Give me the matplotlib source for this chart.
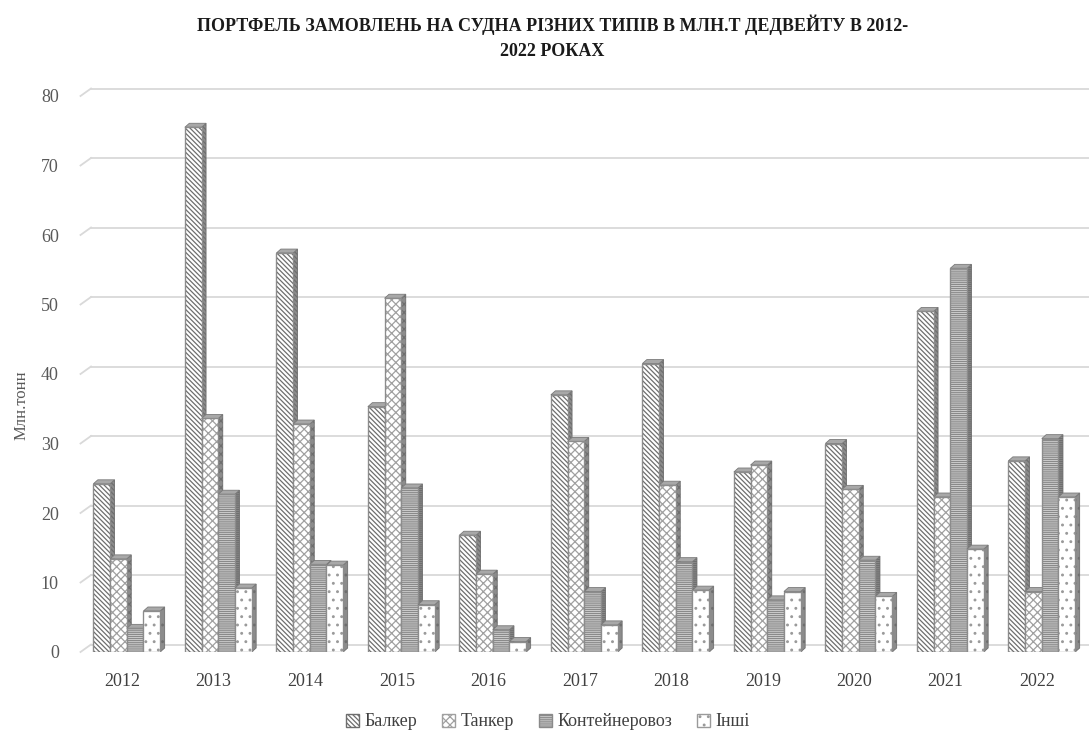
import matplotlib
matplotlib.use("Agg")
import matplotlib.pyplot as plt
import matplotlib.transforms as mtransforms
from matplotlib.patches import Rectangle, Polygon, Patch

# Order book by ship type, million dwt
years = ["2012", "2013", "2014", "2015", "2016", "2017", "2018", "2019", "2020", "2021", "2022"]
balker = [24.2, 75.5, 57.4, 35.3, 16.8, 37.0, 41.5, 25.9, 30.0, 49.0, 27.5]
tanker = [13.4, 33.6, 32.8, 50.9, 11.2, 30.3, 24.0, 26.9, 23.4, 22.3, 8.7]
container = [3.4, 22.7, 12.6, 23.6, 3.2, 8.7, 13.0, 7.5, 13.2, 55.2, 30.7]
other = [5.9, 9.2, 12.5, 6.8, 1.5, 3.9, 8.9, 8.7, 8.0, 14.8, 22.3]
series_names = ["Балкер", "Танкер", "Контейнеровоз", "Інші"]
y_ticks = [0, 10, 20, 30, 40, 50, 60, 70, 80]

W, H = 1089, 733
fig = plt.figure(figsize=(W / 100, H / 100), dpi=100)
plt.rcParams["hatch.linewidth"] = 0.9
serif = ["Liberation Serif", "DejaVu Serif"]

def fx(px):
    return px / W

def fy(py):
    return 1 - py / H

# axes = front plane of the 3-D box
ax = fig.add_axes([fx(81), fy(652), fx(1087.5) - fx(81), fy(96) - fy(652)])
ax.set_xlim(-0.5, len(years) - 0.5)
ax.set_ylim(0, 80)
for s in ax.spines.values():
    s.set_visible(False)

# pseudo-3D depth (pixels converted to data units)
px_x = (len(years)) / (1087.5 - 81)
px_y = 80 / (652 - 96)
bar_dx, bar_dy = 4.5 * px_x, 4.0 * px_y
wall_dx, wall_dy = 10 * px_x, 7.5 * px_y

# gridlines on the back wall + slanted side-wall stubs
for v in y_ticks:
    ax.plot([-0.5 + wall_dx, len(years) + 0.5], [v + wall_dy, v + wall_dy],
            color="#d9d9d9", lw=1.3, zorder=1, clip_on=False)
    ax.plot([-0.5 - 0.5 * px_x, -0.5 + wall_dx], [v, v + wall_dy],
            color="#d9d9d9", lw=1.3, zorder=1, clip_on=False)

styles = [
    dict(face="white", hatch="\\" * 7, edge="#6e6e6e"),
    dict(face="white", hatch="xxxx", edge="#a0a0a0"),
    dict(face="#d6d6d6", hatch="-" * 8, edge="#8a8a8a"),
    dict(face="white", hatch="..", edge="#9a9a9a"),
]
data = [balker, tanker, container, other]
bw = 16.7 * px_x

z = 2
for i in range(len(years)):
    for k, vals in enumerate(data):
        h = vals[i]
        x0 = i + (k - 2) * bw
        x1 = x0 + bw
        st = styles[k]
        # right side face
        ax.add_patch(Polygon([(x1, 0), (x1 + bar_dx, bar_dy), (x1 + bar_dx, h + bar_dy), (x1, h)],
                             closed=True, facecolor="#8c8c8c", edgecolor="#6e6e6e",
                             hatch=st["hatch"], lw=0.6, zorder=z))
        # top face
        ax.add_patch(Polygon([(x0, h), (x0 + bar_dx, h + bar_dy), (x1 + bar_dx, h + bar_dy), (x1, h)],
                             closed=True, facecolor="#a8a8a8", edgecolor="#7a7a7a",
                             lw=0.6, zorder=z + 1))
        # front face
        ax.add_patch(Rectangle((x0, 0), bw, h, facecolor=st["face"], edgecolor=st["edge"],
                               hatch=st["hatch"], lw=0.8, zorder=z + 2))
        ax.add_patch(Rectangle((x0, 0), bw, h, facecolor="none", edgecolor="#8c8c8c",
                               lw=0.9, zorder=z + 2))
        z += 3

ax.set_xticks(range(len(years)))
ax.set_xticklabels(years, fontfamily=serif, fontsize=13, color="#404040")
ax.set_yticks(y_ticks)
ax.set_yticklabels([str(v) for v in y_ticks], fontfamily=serif, fontsize=13, color="#595959")
ax.tick_params(axis="both", length=0)
ax.tick_params(axis="x", pad=15)
ax.tick_params(axis="y", pad=16)
shift = mtransforms.ScaledTranslation(-4.5 / 100, 0, fig.dpi_scale_trans)
for lab in ax.get_xticklabels():
    lab.set_transform(lab.get_transform() + shift)

fig.text(fx(22), fy(405), "Млн.тонн", rotation=90, ha="center", va="center",
         fontfamily=serif, fontsize=12, color="#595959")

fig.text(0.507, fy(25), "ПОРТФЕЛЬ ЗАМОВЛЕНЬ НА СУДНА РІЗНИХ ТИПІВ В МЛН.Т ДЕДВЕЙТУ В 2012-",
         ha="center", va="center", fontfamily=serif, fontsize=13, fontweight="bold", color="#1a1a1a")
fig.text(0.507, fy(52), "2022 РОКАХ", ha="center", va="center",
         fontfamily=serif, fontsize=13, fontweight="bold", color="#1a1a1a")

handles = [Patch(facecolor=st["face"], edgecolor=st["edge"], hatch=st["hatch"]) for st in styles]
fig.legend(handles, series_names, loc="center", bbox_to_anchor=(fx(548), fy(722)), ncol=4,
           frameon=False, prop={"family": serif, "size": 13}, handlelength=0.7, handleheight=0.7,
           handletextpad=0.3, columnspacing=1.4, labelcolor="#404040")

fig.savefig("out.png", dpi=100)
